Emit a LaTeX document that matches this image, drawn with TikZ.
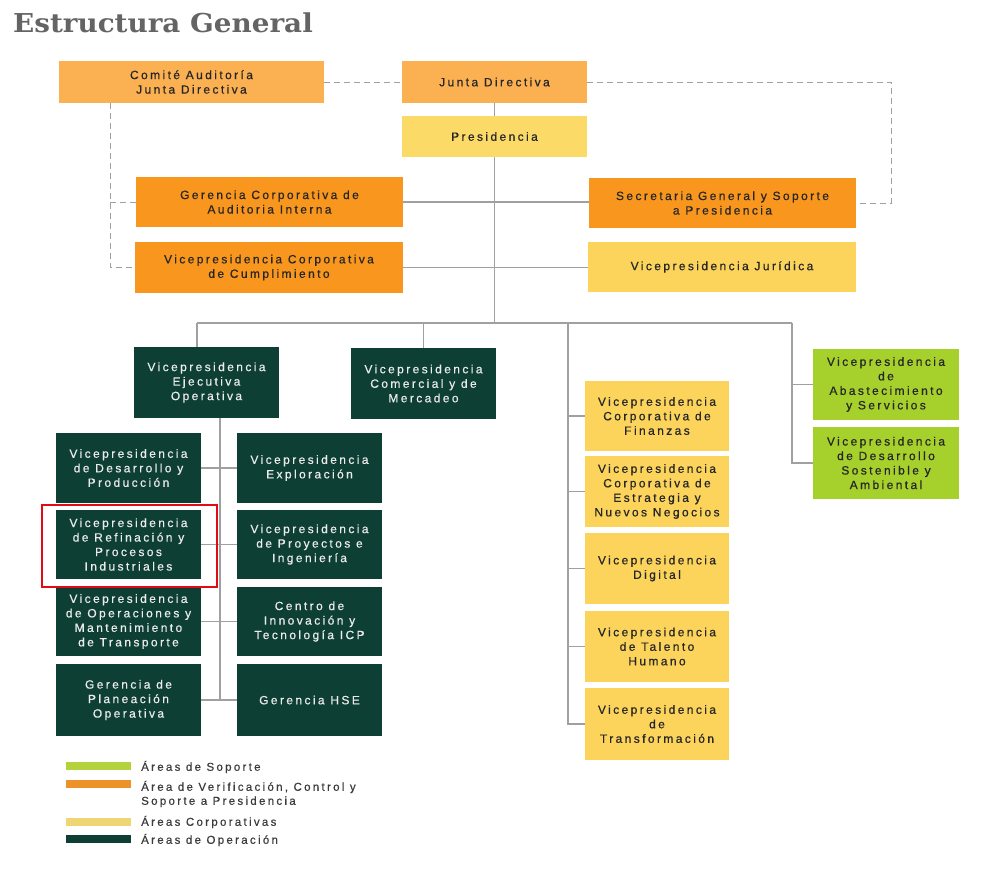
\documentclass[tikz,border=0pt]{standalone}
\usepackage{graphicx}
\usepackage{fontspec}
\setmainfont{Liberation Sans}
\newfontfamily\boxfont[LetterSpace=20,FakeBold=0.5]{Liberation Sans}
\newfontfamily\titlefont{DejaVu Serif}
\definecolor{lorange}{RGB}{251,176,82}
\definecolor{dorange}{RGB}{248,150,30}
\definecolor{yel}{RGB}{252,212,92}
\definecolor{pyel}{RGB}{252,218,104}
\definecolor{dgreen}{RGB}{13,63,53}
\definecolor{lime}{RGB}{166,208,44}
\definecolor{linegray}{RGB}{160,160,160}
\definecolor{titlegray}{RGB}{100,100,100}
\definecolor{legtext}{RGB}{60,60,60}
\definecolor{legorange}{RGB}{236,146,40}
\definecolor{legyel}{RGB}{238,214,116}
\definecolor{leglime}{RGB}{180,210,60}
\definecolor{redmark}{RGB}{226,10,20}
\begin{document}
\begin{tikzpicture}[x=1pt,y=-1pt,
  box/.style={rectangle, inner sep=0pt, align=center, font={\boxfont\fontsize{12}{14.5}\selectfont}},
  opbox/.style={box, fill=dgreen, text=white!92!black, minimum width=145pt},
  corbox/.style={box, fill=yel, text=black!85},
  verbox/.style={box, fill=dorange, text=black!85},
  jdbox/.style={box, fill=lorange, text=black!85},
  supbox/.style={box, fill=lime, text=black!85, minimum width=146pt},
  conn/.style={draw=linegray, line width=1.1pt},
  dconn/.style={draw=linegray, line width=1pt, dash pattern=on 6pt off 4pt},
  legbar/.style={rectangle, inner sep=0pt, minimum width=65pt, minimum height=8pt},
  legtxt/.style={anchor=west, inner sep=0pt, align=left, text=legtext, font={\boxfont\fontsize{11.5}{14}\selectfont}}
]
\useasboundingbox[fill=white] (0,0) rectangle (990,873);

% title
\node[anchor=base west, inner sep=0pt, text=titlegray, font={\titlefont\bfseries\fontsize{26}{30}\selectfont}] (title) at (13,32) {\scalebox{1.07}[1]{Estructura General}};

% top level
\node[jdbox, minimum width=265pt, minimum height=42pt] (comite) at (191.5,82) {Comité Auditoría\\Junta Directiva};
\node[jdbox, minimum width=185pt, minimum height=42pt] (junta) at (494.5,82) {Junta Directiva};
\node[box, fill=pyel, text=black!85, minimum width=185pt, minimum height=41pt] (pres) at (494.5,136.5) {Presidencia};
\node[verbox, minimum width=267pt, minimum height=50pt] (geren) at (269.5,202) {Gerencia  Corporativa de\\Auditoria Interna};
\node[verbox, minimum width=268pt, minimum height=51pt] (cumpl) at (269,267.5) {Vicepresidencia Corporativa\\de Cumplimiento};
\node[verbox, minimum width=267pt, minimum height=50pt] (secre) at (722.5,203) {Secretaria General y Soporte\\a Presidencia};
\node[corbox, minimum width=268pt, minimum height=50pt] (jurid) at (722,267) {Vicepresidencia Jurídica};

% operations
\node[opbox, minimum height=71pt] (ejec) at (206.5,382.5) {Vicepresidencia\\Ejecutiva\\Operativa};
\node[opbox, minimum height=71pt] (comer) at (423.5,383.5) {Vicepresidencia\\Comercial y de\\Mercadeo};
\node[opbox, minimum height=70pt] (l1) at (128.5,468) {Vicepresidencia\\de Desarrollo y\\Producción};
\node[opbox, minimum height=69pt] (l2) at (128.5,544.5) {Vicepresidencia\\de Refinación y\\Procesos\\Industriales};
\node[opbox, minimum height=69pt] (l3) at (128.5,621.5) {Vicepresidencia\\de Operaciones y\\Mantenimiento\\de Transporte};
\node[opbox, minimum height=72pt] (l4) at (128.5,700) {Gerencia de\\Planeación\\Operativa};
\node[opbox, minimum height=70pt] (r1) at (309.5,468) {Vicepresidencia\\Exploración};
\node[opbox, minimum height=69pt] (r2) at (309.5,544.5) {Vicepresidencia\\de Proyectos e\\Ingeniería};
\node[opbox, minimum height=69pt] (r3) at (309.5,621.5) {Centro de\\Innovación y\\Tecnología ICP};
\node[opbox, minimum height=72pt] (r4) at (309.5,700) {Gerencia HSE};

% corporate column
\node[corbox, minimum width=144pt, minimum height=70pt] (fin) at (657,416) {Vicepresidencia\\Corporativa de\\Finanzas};
\node[corbox, minimum width=144pt, minimum height=71pt] (estr) at (657,491.5) {Vicepresidencia\\Corporativa de\\Estrategia y\\Nuevos Negocios};
\node[corbox, minimum width=144pt, minimum height=71pt] (digi) at (657,568.5) {Vicepresidencia\\Digital};
\node[corbox, minimum width=144pt, minimum height=71pt] (tale) at (657,646.5) {Vicepresidencia\\de Talento\\Humano};
\node[corbox, minimum width=144pt, minimum height=72pt] (trans) at (657,724) {Vicepresidencia\\de\\Transformación};

% support
\node[supbox, minimum height=71pt] (abas) at (886,384.5) {Vicepresidencia\\de\\Abastecimiento\\y  Servicios};
\node[supbox, minimum height=72pt] (sost) at (886,463) {Vicepresidencia\\de Desarrollo\\Sostenible y\\Ambiental};

% dashed connectors
\coordinate (cl1) at (110,202);
\coordinate (cl2) at (110,267.5);
\coordinate (cr) at (891,203);
\draw[dconn] (comite.east) -- (junta.west);
\draw[dconn] (junta.east) -| (cr) -- (secre.east);
\draw[dconn] (comite.south -| cl1) -- (cl2) -- (cumpl.west);
\draw[dconn] (cl1) -- (geren.west);

% solid connectors
\coordinate (bl) at (197,323);
\coordinate (br) at (792,323);
\coordinate (cs) at (568,323);
\draw[conn] (junta.south) -- (pres.north);
\draw[conn] (pres.south) -- (pres.south |- bl);
\draw[conn] (geren.east) -- (secre.west |- geren.east);
\draw[conn] (cumpl.east) -- (jurid.west |- cumpl.east);
\draw[conn] (bl) -- (br);
\draw[conn] (bl) -- (bl |- ejec.north);
\draw[conn] (comer.north |- bl) -- (comer.north);
% operations spine
\coordinate (os) at (220,418);
\draw[conn] (ejec.south -| os) -- (os |- l4.east);
\draw[conn] (l1.east) -- (r1.west);
\draw[conn] (l2.east) -- (r2.west);
\draw[conn] (l3.east) -- (r3.west);
\draw[conn] (l4.east) -- (r4.west);
% corporate spine
\draw[conn] (cs) -- (cs |- trans.west) -- (trans.west);
\draw[conn] (cs |- fin.west) -- (fin.west);
\draw[conn] (cs |- estr.west) -- (estr.west);
\draw[conn] (cs |- digi.west) -- (digi.west);
\draw[conn] (cs |- tale.west) -- (tale.west);
% support spine
\draw[conn] (br) -- (br |- sost.west) -- (sost.west);
\draw[conn] (br |- abas.west) -- (abas.west);

% highlight
\draw[draw=redmark, line width=2.8pt] (42,505) rectangle (217,587);

% legend
\node[legbar, fill=leglime] (lb1) at (98.5,766) {};
\node[legbar, fill=legorange] (lb2) at (98.5,783.5) {};
\node[legbar, fill=legyel] (lb3) at (98.5,821.5) {};
\node[legbar, fill=dgreen] (lb4) at (98.5,839) {};
\node[legtxt] (lt1) at (141,767) {Áreas de Soporte};
\node[legtxt] (lt2) at (141,794) {Área de Verificación, Control y\\Soporte a Presidencia};
\node[legtxt] (lt3) at (141,822) {Áreas Corporativas};
\node[legtxt] (lt4) at (141,840) {Áreas de Operación};
\end{tikzpicture}
\end{document}
